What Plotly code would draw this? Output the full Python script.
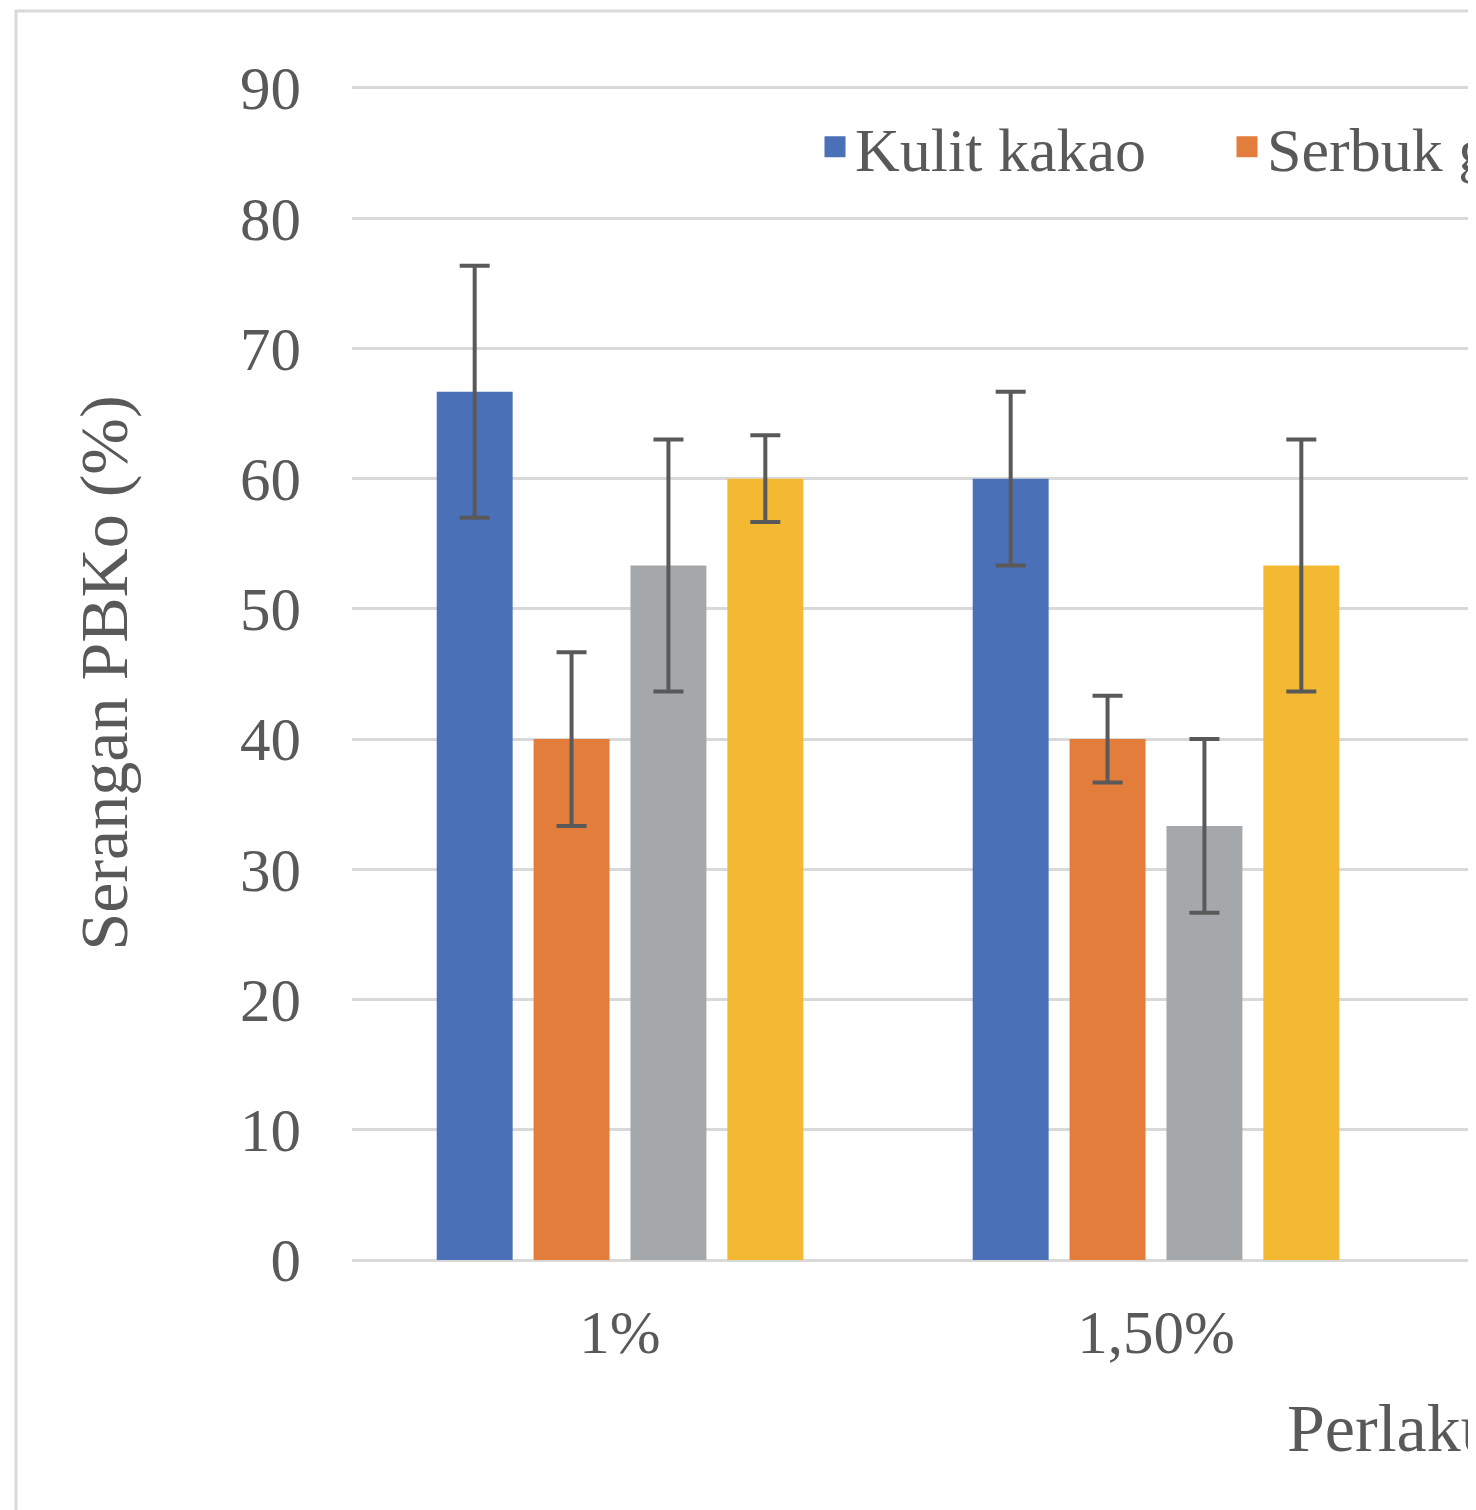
import plotly.graph_objects as go

categories = ["1%", "1,50%"]
series_names = ["Kulit kakao", "Serbuk gergaji", "Sekam padi", "Tongkol jagung"]
series_colors = ["#4A71B7", "#E27D3C", "#A5A8AB", "#F3B932"]
kulit_kakao = [66.67, 60.0]
serbuk = [40.0, 40.0]
series3 = [53.33, 33.33]
series4 = [60.0, 53.33]
err_kulit_kakao = [9.67, 6.67]
err_serbuk = [6.67, 3.33]
err_series3 = [9.67, 6.67]
err_series4 = [3.33, 9.67]

values = [kulit_kakao, serbuk, series3, series4]
errors = [err_kulit_kakao, err_serbuk, err_series3, err_series4]

FONT = "Liberation Serif"
TXT = "#595959"

OFF = 8  # page body margin
W, H = 1476, 1510
L, T = 344, 78
B = H - 1252
R = 0
plot_w = W - L - R
plot_h = H - T - B
band = 536.0


def px_x(p):
    return (p - OFF - L) / plot_w


def px_y(p):
    return (H - B - (p - OFF)) / plot_h


fig = go.Figure()
for i, (name, col, vals, errs) in enumerate(zip(series_names, series_colors, values, errors)):
    fig.add_trace(go.Bar(
        x=categories, y=vals, name=name, legendgroup=name,
        marker=dict(color=col, line=dict(width=0)),
        error_y=dict(type="data", array=errs, visible=True,
                     color="#595959", thickness=4, width=15),
        showlegend=False,
    ))
    if i < 2:
        fig.add_trace(go.Scatter(
            x=[None], y=[None], name=name, legendgroup=name, mode="markers",
            marker=dict(symbol="square", size=16, color=col,
                        line=dict(color=col, width=5)),
            hoverinfo="skip", showlegend=True,
        ))

fig.update_layout(
    width=W, height=H, autosize=False,
    margin=dict(l=L, r=R, t=T, b=B, pad=0, autoexpand=False),
    paper_bgcolor="white", plot_bgcolor="white",
    barmode="group", bargap=0.277, bargroupgap=0.216,
    font=dict(family=FONT, color=TXT, size=61),
    legend=dict(orientation="h", x=px_x(815), xanchor="left",
                y=px_y(147), yanchor="middle", entrywidth=367,
                entrywidthmode="pixels", itemsizing="trace",
                font=dict(family=FONT, size=62, color=TXT),
                bgcolor="rgba(0,0,0,0)", borderwidth=0),
    xaxis=dict(range=[-0.5, plot_w / band - 0.5], showgrid=False,
               showline=False, zeroline=False, ticks="",
               tickfont=dict(family=FONT, size=61, color=TXT),
               ticklabelstandoff=31),
    yaxis=dict(range=[0, 90.15], tickvals=[0, 10, 20, 30, 40, 50, 60, 70, 80, 90],
               showgrid=True, gridcolor="#D9D9D9", gridwidth=3,
               zeroline=True, zerolinecolor="#D9D9D9", zerolinewidth=3,
               showline=False, ticks="",
               tickfont=dict(family=FONT, size=61, color=TXT),
               ticklabelstandoff=50,
               title=dict(text="Serangan PBKo (%)", standoff=90,
                          font=dict(family=FONT, size=68, color=TXT))),
    annotations=[dict(text="Perlakuan", xref="paper", yref="paper",
                      x=px_x(1285), y=px_y(1428), xanchor="left", yanchor="middle",
                      showarrow=False,
                      font=dict(family=FONT, size=68, color=TXT))],
    shapes=[dict(type="rect", xref="paper", yref="paper",
                 x0=px_x(16), x1=px_x(1700), y0=px_y(1700), y1=px_y(11),
                 line=dict(color="#D9D9D9", width=3), fillcolor="rgba(0,0,0,0)",
                 layer="below")],
)

fig.write_html("out.html")
